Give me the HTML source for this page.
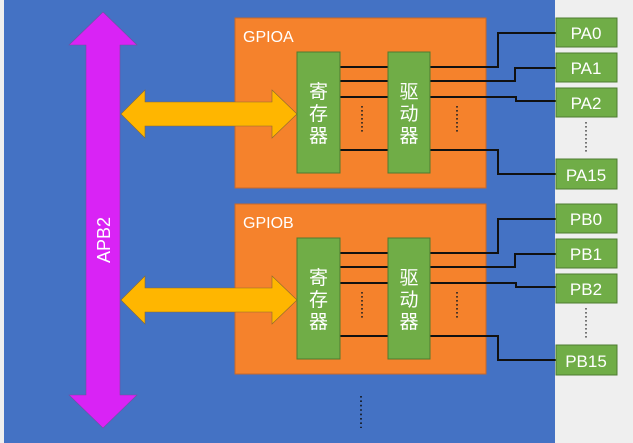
<!DOCTYPE html>
<html><head><meta charset="utf-8"><style>
body{margin:0;width:633px;height:443px;overflow:hidden;background:#efefef}
svg{display:block}
text{font-family:"Liberation Sans","Noto Sans CJK SC",sans-serif;fill:#fff}
</style></head><body>
<svg width="633" height="443" viewBox="0 0 633 443">
<rect x="0" y="0" width="633" height="443" fill="#efefef"/>
<rect x="4" y="0" width="551" height="443" fill="#4472c4"/>
<polygon points="103,12 137,45 120,45 120,395 137,395 103,428 69,395 86,395 86,45 69,45" fill="#d923f5" stroke="#7a4aa0" stroke-width="0.6"/>
<text x="0" y="0" font-size="18" transform="translate(110,240) rotate(-90)" text-anchor="middle">APB2</text>
<g id="A">
<rect x="235" y="18" width="251" height="170" fill="#f5822c" stroke="#c8682a" stroke-width="1"/>
<text x="243" y="42" font-size="16">GPIOA</text>
<polygon points="121,114 145,90 145,102 272,102 272,90 297,114 272,138 272,126 145,126 145,138" fill="#ffb600" stroke="#8a6a30" stroke-width="0.6"/>
<g stroke="#111" stroke-width="2" fill="none">
<path d="M340,67H388M340,81H388M340,97H388M340,150H388"/>
<path d="M430,67H498V33H556"/>
<path d="M430,81H515V68H556"/>
<path d="M430,97H516V101H556"/>
<path d="M430,150H498V174H556"/>
</g>
<rect x="297" y="52" width="43" height="121" fill="#70ad47" stroke="#4e7c30" stroke-width="1"/>
<rect x="388" y="52" width="42" height="121" fill="#70ad47" stroke="#4e7c30" stroke-width="1"/>
<text x="318.5" y="98" font-size="19" text-anchor="middle">寄</text>
<text x="318.5" y="120" font-size="19" text-anchor="middle">存</text>
<text x="318.5" y="142" font-size="19" text-anchor="middle">器</text>
<text x="409" y="98" font-size="19" text-anchor="middle">驱</text>
<text x="409" y="120" font-size="19" text-anchor="middle">动</text>
<text x="409" y="142" font-size="19" text-anchor="middle">器</text>
<line x1="362" y1="106" x2="362" y2="134" stroke="#222" stroke-width="1.6" stroke-dasharray="1.6,2.4"/>
<line x1="457" y1="106" x2="457" y2="134" stroke="#222" stroke-width="1.6" stroke-dasharray="1.6,2.4"/>
<line x1="586" y1="122" x2="586" y2="152" stroke="#555" stroke-width="1.6" stroke-dasharray="1.6,2.4"/>
<g fill="#70ad47" stroke="#4e7c30" stroke-width="1">
<rect x="556" y="18" width="61" height="29"/>
<rect x="556" y="53" width="61" height="29"/>
<rect x="556" y="88" width="61" height="29"/>
<rect x="556" y="159" width="61" height="30"/>
</g>
<text x="586" y="39" font-size="17" text-anchor="middle">PA0</text>
<text x="586" y="74" font-size="17" text-anchor="middle">PA1</text>
<text x="586" y="109" font-size="17" text-anchor="middle">PA2</text>
<text x="586" y="181" font-size="17" text-anchor="middle">PA15</text>
</g>
<g transform="translate(0,186)">
<rect x="235" y="18" width="251" height="170" fill="#f5822c" stroke="#c8682a" stroke-width="1"/>
<text x="243" y="42" font-size="16">GPIOB</text>
<polygon points="121,114 145,90 145,102 272,102 272,90 297,114 272,138 272,126 145,126 145,138" fill="#ffb600" stroke="#8a6a30" stroke-width="0.6"/>
<g stroke="#111" stroke-width="2" fill="none">
<path d="M340,67H388M340,81H388M340,97H388M340,150H388"/>
<path d="M430,67H498V33H556"/>
<path d="M430,81H515V68H556"/>
<path d="M430,97H516V101H556"/>
<path d="M430,150H498V174H556"/>
</g>
<rect x="297" y="52" width="43" height="121" fill="#70ad47" stroke="#4e7c30" stroke-width="1"/>
<rect x="388" y="52" width="42" height="121" fill="#70ad47" stroke="#4e7c30" stroke-width="1"/>
<text x="318.5" y="98" font-size="19" text-anchor="middle">寄</text>
<text x="318.5" y="120" font-size="19" text-anchor="middle">存</text>
<text x="318.5" y="142" font-size="19" text-anchor="middle">器</text>
<text x="409" y="98" font-size="19" text-anchor="middle">驱</text>
<text x="409" y="120" font-size="19" text-anchor="middle">动</text>
<text x="409" y="142" font-size="19" text-anchor="middle">器</text>
<line x1="362" y1="106" x2="362" y2="134" stroke="#222" stroke-width="1.6" stroke-dasharray="1.6,2.4"/>
<line x1="457" y1="106" x2="457" y2="134" stroke="#222" stroke-width="1.6" stroke-dasharray="1.6,2.4"/>
<line x1="586" y1="122" x2="586" y2="152" stroke="#555" stroke-width="1.6" stroke-dasharray="1.6,2.4"/>
<g fill="#70ad47" stroke="#4e7c30" stroke-width="1">
<rect x="556" y="18" width="61" height="29"/>
<rect x="556" y="53" width="61" height="29"/>
<rect x="556" y="88" width="61" height="29"/>
<rect x="556" y="159" width="61" height="30"/>
</g>
<text x="586" y="39" font-size="17" text-anchor="middle">PB0</text>
<text x="586" y="74" font-size="17" text-anchor="middle">PB1</text>
<text x="586" y="109" font-size="17" text-anchor="middle">PB2</text>
<text x="586" y="181" font-size="17" text-anchor="middle">PB15</text>
</g>
<line x1="361" y1="396" x2="361" y2="428" stroke="#111" stroke-width="1.6" stroke-dasharray="1.6,2.8"/>
</svg>
</body></html>
